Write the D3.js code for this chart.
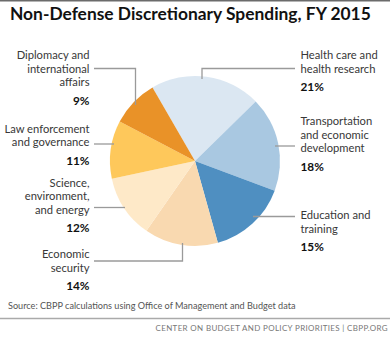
<!DOCTYPE html>
<html>
<head>
<meta charset="utf-8">
<script src="https://cdn.jsdelivr.net/npm/d3@7"></script>
<style>
  html, body { margin: 0; padding: 0; background: #fff; }
  svg { display: block; }
  text { font-family: Lato, "Open Sans", sans-serif; }
</style>
</head>
<body>
<script>
// Non-defense discretionary spending shares, FY 2015
const categories = [
  "Health care and health research",
  "Transportation and economic development",
  "Education and training",
  "Economic security",
  "Science, environment, and energy",
  "Law enforcement and governance",
  "Diplomacy and international affairs"
];
const shares = [21, 18, 15, 14, 12, 11, 9];
const labelLines = [
  ["Health care and", "health research"],
  ["Transportation", "and economic", "development"],
  ["Education and", "training"],
  ["Economic", "security"],
  ["Science,", "environment,", "and energy"],
  ["Law enforcement", "and governance"],
  ["Diplomacy and", "international", "affairs"]
];
const sliceColors = ["#dbe7f2", "#a9c8e1", "#4f8fc1", "#f9d9b0", "#fee9c8", "#fec85b", "#e99228"];

const W = 390, H = 343;
const svg = d3.select("body").append("svg").attr("width", W).attr("height", H);

// scale a text's font size so it spans the given width
function fitWidth(sel, size, width) {
  sel.attr("font-size", size);
  const w = sel.node().getComputedTextLength();
  sel.attr("font-size", size * width / w);
}

// top rule
svg.append("line").attr("x1", 0).attr("x2", W).attr("y1", 0.75).attr("y2", 0.75)
  .attr("stroke", "#6b6b6b").attr("stroke-width", 1.5);

// title
const title = svg.append("text").attr("x", 10).attr("y", 19.5)
  .attr("font-weight", 700).attr("fill", "#111")
  .text("Non-Defense Discretionary Spending, FY 2015");
fitWidth(title, 14, 361);

// pie
const cx = 195, cy = 161, R = 85;
const pie = d3.pie().sort(null).value(d => d)
  .startAngle(-Math.PI / 6).endAngle(2 * Math.PI - Math.PI / 6);
const arcs = pie(shares);
const arc = d3.arc().innerRadius(0).outerRadius(R);
const g = svg.append("g").attr("transform", `translate(${cx},${cy})`);
g.selectAll("path").data(arcs).enter().append("path")
  .attr("d", arc).attr("fill", (d, i) => sliceColors[i]);

// leader lines: each is a polyline from the label to the slice rim
const leaders = [
  [[295, 68.5], [202, 68.5], [202, 79]],
  [[295, 146], [275, 146]],
  [[295, 216.5], [253, 216.5]],
  [[94, 261], [182.5, 261], [182.5, 243]],
  [[94, 207.5], [125, 207.5]],
  [[94, 144], [114, 144]],
  [[94, 68.5], [135.5, 68.5], [135.5, 105]]
];
const line = d3.line();
svg.selectAll("path.leader").data(leaders).enter().append("path")
  .attr("class", "leader").attr("d", line)
  .attr("fill", "none").attr("stroke", "#9a9a9a").attr("stroke-width", 1.3);

// labels
const labelPos = [
  { x: 300.5, y: 59, anchor: "start" },
  { x: 300.5, y: 125, anchor: "start" },
  { x: 300.5, y: 219, anchor: "start" },
  { x: 89.5, y: 258.3, anchor: "end" },
  { x: 89.5, y: 186.7, anchor: "end" },
  { x: 89.5, y: 132.7, anchor: "end" },
  { x: 89.5, y: 59, anchor: "end" }
];
const LH = 13.6;
labelLines.forEach((lines, i) => {
  const p = labelPos[i];
  const t = svg.append("text").attr("text-anchor", p.anchor)
    .attr("font-size", 11.2).attr("fill", "#383838");
  lines.forEach((s, j) => {
    t.append("tspan").attr("x", p.x).attr("y", p.y + j * LH).text(s);
  });
  svg.append("text").attr("text-anchor", p.anchor)
    .attr("x", p.x).attr("y", p.y + (lines.length - 1) * LH + 18.5)
    .attr("font-size", 11.8).attr("font-weight", 700).attr("fill", "#111")
    .text(shares[i] + "%");
});

// source note
const src = svg.append("text").attr("x", 8).attr("y", 308.5)
  .attr("fill", "#555")
  .text("Source: CBPP calculations using Office of Management and Budget data");
fitWidth(src, 8.6, 288);

svg.append("line").attr("x1", 0).attr("x2", W).attr("y1", 318.5).attr("y2", 318.5)
  .attr("stroke", "#aaa").attr("stroke-width", 1.3);

const foot = svg.append("text").attr("x", 388).attr("y", 331).attr("text-anchor", "end")
  .attr("fill", "#777").attr("letter-spacing", 0.35)
  .text("CENTER ON BUDGET AND POLICY PRIORITIES | CBPP.ORG");
fitWidth(foot, 8.2, 232);
</script>
</body>
</html>
